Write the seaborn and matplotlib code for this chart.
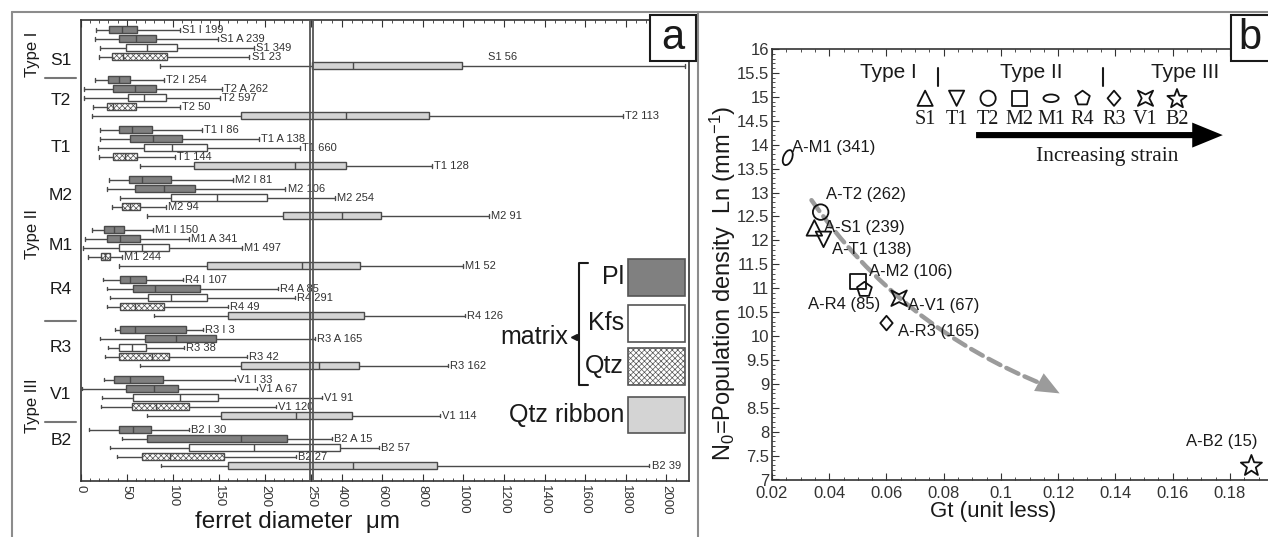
import numpy as np
import pandas as pd
import matplotlib
matplotlib.use("Agg")
import matplotlib.pyplot as plt
import seaborn as sns
from matplotlib.path import Path
from matplotlib.transforms import Affine2D, blended_transform_factory
from matplotlib.patches import Rectangle
from matplotlib.lines import Line2D
from matplotlib.ticker import FixedLocator, FuncFormatter, MultipleLocator

# ---------------- panel a data: (whisker low, Q1, median, Q3, whisker high) in micrometres
samples = ["S1", "T2", "T1", "M2", "M1", "R4", "R3", "V1", "B2"]
row_minerals = ["Pl", "Pl", "Kfs", "Qtz", "Qtz ribbon"]

S1_stats = [[17, 31, 44.5, 61, 108], [16, 41, 60, 82, 149], [21, 49, 72, 104, 188],
            [20, 34, 46, 94, 183], [86, 255, 457, 994, 2092]]
T2_stats = [[15.5, 30, 41.5, 54, 90], [3.6, 35, 59, 82, 153], [3.6, 51, 69, 92, 151],
            [13, 28, 35, 60, 108], [12.6, 174, 422, 828, 1785]]
T1_stats = [[21, 41.5, 56, 77, 131], [21, 53, 78, 110, 193], [19, 69, 99.5, 137, 238],
            [20, 35, 48, 61, 102], [64, 123, 232.5, 422, 845]]
M2_stats = [[31, 52, 67, 98, 165.6], [29, 59, 90, 124, 222], [42.6, 97.6, 147.5, 202, 368],
            [34, 45, 53, 64, 92], [71.6, 219, 401, 593, 1128]]
M1_stats = [[12, 25.6, 36.5, 47, 78], [4.7, 29, 42.6, 64, 117], [2, 42, 67, 96, 175],
            [8, 21.7, 26, 32, 45], [42, 137, 240, 491, 1000]]
R4_stats = [[24, 43, 53.5, 70.5, 111], [28, 57, 81, 129.5, 214], [32, 73, 97.6, 137, 232.5],
            [28, 42.6, 59, 90, 160], [79, 160, 249, 508, 1009]]
R3_stats = [[37, 43, 59, 114, 133], [21, 70, 103, 146.5, 270], [30, 41, 56, 71, 112],
            [26, 41, 77, 96, 180], [64, 174, 286, 483, 926]]
V1_stats = [[25.6, 36.5, 53.5, 89, 167], [1, 49, 80, 106, 191], [23, 57, 108, 149, 303],
            [21.7, 56, 82, 117, 212], [71.6, 152, 233, 453, 885]]
B2_stats = [[9, 41, 57, 76, 117], [44.5, 71.6, 174, 224, 352], [32, 117, 188, 393, 582],
            [39, 66, 97, 155.5, 233], [87, 159.5, 458, 872, 1917]]

S1_labels = ["S1 I 199", "S1 A 239", "S1 349", "S1 23", "S1 56"]
T2_labels = ["T2 I 254", "T2 A 262", "T2 597", "T2 50", "T2 113"]
T1_labels = ["T1 I 86", "T1 A 138", "T1 660", "T1 144", "T1 128"]
M2_labels = ["M2 I 81", "M2 106", "M2 254", "M2 94", "M2 91"]
M1_labels = ["M1 I 150", "M1 A 341", "M1 497", "M1 244", "M1 52"]
R4_labels = ["R4 I 107", "R4 A 85", "R4 291", "R4 49", "R4 126"]
R3_labels = ["R3 I 3", "R3 A 165", "R3 38", "R3 42", "R3 162"]
V1_labels = ["V1 I 33", "V1 A 67", "V1 91", "V1 120", "V1 114"]
B2_labels = ["B2 I 30", "B2 A 15", "B2 57", "B2 27", "B2 39"]

x_major = [0, 50, 100, 150, 200, 250, 400, 600, 800, 1000, 1200, 1400, 1600, 1800, 2000]

# ---------------- panel b data
gt_samples = ["M1", "T2", "S1", "T1", "M2", "R4", "V1", "R3", "B2"]
gt_values = [0.0255, 0.0370, 0.0348, 0.0380, 0.0500, 0.0523, 0.0644, 0.0600, 0.1875]
n0_values = [13.73, 12.59, 12.26, 12.02, 11.14, 10.97, 10.79, 10.27, 7.30]
point_labels = ["A-M1 (341)", "A-T2 (262)", "A-S1 (239)", "A-T1 (138)", "A-M2 (106)",
                "A-R4 (85)", "A-V1 (67)", "A-R3 (165)", "A-B2 (15)"]
strain_order = ["S1", "T1", "T2", "M2", "M1", "R4", "R3", "V1", "B2"]

stats = dict(zip(samples, [S1_stats, T2_stats, T1_stats, M2_stats, M1_stats,
                           R4_stats, R3_stats, V1_stats, B2_stats]))
labels = dict(zip(samples, [S1_labels, T2_labels, T1_labels, M2_labels, M1_labels,
                            R4_labels, R3_labels, V1_labels, B2_labels]))

# ---------------- style
sns.set_style("ticks")
plt.rcParams.update({
    "font.family": ["Liberation Sans", "DejaVu Sans"],
    "mathtext.fontset": "custom",
    "mathtext.rm": "Liberation Sans",
    "mathtext.it": "Liberation Sans:italic",
    "mathtext.bf": "Liberation Sans:bold",
    "hatch.color": "#9a9a9a",
    "hatch.linewidth": 0.5,
    "axes.edgecolor": "#333333",
    "axes.linewidth": 1.2,
    "xtick.color": "#333333",
    "ytick.color": "#333333",
    "text.color": "#1a1a1a",
})

W, H = 1268, 537
fig = plt.figure(figsize=(W / 100, H / 100), dpi=100)
fig.patch.set_facecolor("white")
def fx(x): return x / W
def fy(y): return 1 - y / H

# ================= panel a =================
axL = fig.add_axes([fx(80.7), fy(480.7), (689 - 80.7) / W, (480.7 - 20) / H])
K = 0.22
def fwd(x):
    x = np.asarray(x, dtype=float)
    return np.where(x <= 250, x, 250 + (x - 250) * K)
def inv(y):
    y = np.asarray(y, dtype=float)
    return np.where(y <= 250, y, 250 + (y - 250) / K)
axL.set_xscale("function", functions=(fwd, inv))

GROUP_STEP = 5.55
recs = []
for g, s in enumerate(samples):
    for r, st in enumerate(stats[s]):
        for v in st:
            recs.append({"value": v, "pos": g * GROUP_STEP + r, "mineral": row_minerals[r]})
df = pd.DataFrame(recs)

QTZ_FACE = "#fcfcfc"
pal = {"Pl": "#808080", "Kfs": "#ffffff", "Qtz": QTZ_FACE, "Qtz ribbon": "#d4d4d4"}
sns.boxplot(data=df, x="value", y="pos", hue="mineral", orient="h", native_scale=True,
            whis=(0, 100), width=0.78, palette=pal, saturation=1, linecolor="#4a4a4a",
            linewidth=1.0, dodge=False, showfliers=False, legend=False, ax=axL)

for p in axL.patches:
    fc = p.get_facecolor()
    if abs(fc[0] - 252 / 255) < 0.002 and abs(fc[1] - 252 / 255) < 0.002:
        p.set_hatch("xxxxxx")

axL.set_xlim(0, 2112)
axL.set_ylim(50.08, -1.11)
axL.set_xlabel("")
axL.set_ylabel("")
axL.set_yticks([])
axL.set_xticks(x_major)
axL.set_xticklabels([str(v) for v in x_major], rotation=270)
minor = [v for v in range(10, 250, 10) if v % 50] + [v for v in range(300, 2100, 50) if v not in x_major]
axL.xaxis.set_minor_locator(FixedLocator(minor))
axL.tick_params(axis="x", which="both", direction="in", top=True, labelsize=9.5, pad=3)
axL.tick_params(axis="x", which="major", length=5)
axL.tick_params(axis="x", which="minor", length=2.5)

# axis break
for xb in (248.3, 257.7):
    axL.axvline(xb, color="#555555", lw=1.3, zorder=6)

# box labels
for g, s in enumerate(samples):
    for r, st in enumerate(stats[s]):
        pos = g * GROUP_STEP + r
        if st[4] > 2000:
            axL.text(1122, pos - 0.95, labels[s][r], fontsize=8, ha="left", va="center", color="#333")
        else:
            axL.annotate(labels[s][r], (st[4], pos), xytext=(1.5, 0), textcoords="offset points",
                         fontsize=8, ha="left", va="center", color="#333")

# group labels
group_shift = [1.4, 0.3, 0.0, -0.3, -0.3, -0.9, 0.0, -0.3, -0.8]
tr = blended_transform_factory(fig.transFigure, axL.transData)
for g, s in enumerate(samples):
    axL.text(fx(61), g * GROUP_STEP + 2 + group_shift[g], s, transform=tr, fontsize=12.5,
             ha="center", va="center", clip_on=False)
for yy in (78, 321, 422):
    fig.add_artist(Line2D([fx(45), fx(76)], [fy(yy), fy(yy)], color="#777777", lw=1.5))
for txt, yy in (("Type I", 54), ("Type II", 234), ("Type III", 406)):
    fig.text(fx(33), fy(yy), txt, rotation=90, fontsize=12, ha="center", va="center")

fig.text(fx(195), fy(522), "ferret diameter  μm", fontsize=17.5, ha="left", va="center")

# legend of panel a
leg = [("Pl", 259, 296, "#808080", None), ("Kfs", 305, 342, "#ffffff", None),
       ("Qtz", 348, 385, "#ffffff", "xxxxxx"), ("Qtz ribbon", 397, 433, "#d4d4d4", None)]
for name, y0, y1, col, hatch in leg:
    fig.add_artist(Rectangle((fx(628), fy(y1)), 57 / W, (y1 - y0) / H, transform=fig.transFigure,
                             facecolor=col, edgecolor="#555555", lw=1.2, hatch=hatch))
    fig.text(fx(624), fy((y0 + y1) / 2), name, fontsize=18, ha="right", va="center")
fig.text(fx(568), fy(337), "matrix", fontsize=18, ha="right", va="center")
fig.add_artist(Line2D([fx(588), fx(579), fx(579), fx(588)], [fy(263), fy(263), fy(385), fy(385)],
                      color="#1a1a1a", lw=1.5))
fig.add_artist(Line2D([fx(574)], [fy(337)], marker="<", ms=5, color="#1a1a1a", lw=0))

# ================= panel b =================
axR = fig.add_axes([fx(772), fy(479.5), (W - 772) / W, (479.5 - 49) / H])

ell_data = Path.unit_circle().transformed(Affine2D().scale(0.55, 1).rotate_deg(-22))
ell_leg = Path.unit_circle().transformed(Affine2D().scale(1, 0.5))
star4 = Path([(1, 1), (0, 0.5), (-1, 1), (-0.5, 0), (-1, -1), (0, -0.5), (1, -1), (0.5, 0), (1, 1)],
             [Path.MOVETO] + [Path.LINETO] * 7 + [Path.CLOSEPOLY])
diam = Path([(0, 1), (-0.85, 0), (0, -1), (0.85, 0), (0, 1)],
            [Path.MOVETO] + [Path.LINETO] * 3 + [Path.CLOSEPOLY])
ang = np.pi / 2 + np.arange(10) * np.pi / 5
rad = np.where(np.arange(10) % 2 == 0, 1.0, 0.42)
star5 = Path(np.column_stack([rad * np.cos(ang), rad * np.sin(ang) - 0.08]).tolist() + [[0, 0.92]],
             [Path.MOVETO] + [Path.LINETO] * 9 + [Path.CLOSEPOLY])
marker_map = {"S1": "^", "T1": "v", "T2": "o", "M2": "s", "M1": ell_data, "R4": "p",
              "R3": diam, "V1": star4, "B2": star5}
marker_size = {"S1": 125, "T1": 125, "T2": 125, "M2": 125, "M1": 125, "R4": 125,
               "R3": 110, "V1": 125, "B2": 230}

dfp = pd.DataFrame({"Gt": gt_values, "N0": n0_values, "sample": gt_samples})
sns.scatterplot(data=dfp, x="Gt", y="N0", style="sample", markers=marker_map,
                size="sample", sizes=marker_size,
                color="#111111", facecolor="none", edgecolor="#111111", linewidth=1.3,
                legend=False, ax=axR, zorder=5, clip_on=False)

axR.set_xlim(0.02, 0.1933)
axR.set_ylim(7, 16)
axR.set_xlabel("")
axR.set_ylabel("")
axR.xaxis.set_major_locator(MultipleLocator(0.02))
axR.xaxis.set_minor_locator(MultipleLocator(0.005))
axR.yaxis.set_major_locator(MultipleLocator(0.5))
axR.yaxis.set_minor_locator(MultipleLocator(0.1))
fmt = FuncFormatter(lambda v, p: f"{v:g}")
axR.xaxis.set_major_formatter(fmt)
axR.yaxis.set_major_formatter(fmt)
axR.tick_params(which="both", direction="in", top=True, right=False, labelsize=12, pad=2)
axR.tick_params(axis="x", which="major", pad=5)
axR.tick_params(which="major", length=5)
axR.tick_params(which="minor", length=2.5)
axR.spines["right"].set_visible(False)

label_off = [(4, 10, "left"), (5, 18, "left"), (10, 0, "left"), (8, -10, "left"), (11, 10, "left"),
             (16, -15, "right"), (9, -7, "left"), (12, -8, "left"), (6, 24, "right")]
for gx, ny, lab, (dx, dy, ha) in zip(gt_values, n0_values, point_labels, label_off):
    axR.annotate(lab, (gx, ny), xytext=(dx * 0.72, dy * 0.72), textcoords="offset points",
                 fontsize=12, ha=ha, va="center", zorder=6)

# dashed trend arrow
axR.annotate("", xy=(0.1155, 8.97), xytext=(0.0338, 12.84),
             arrowprops=dict(arrowstyle="-", color="#9b9b9b", lw=3.2, linestyle=(0, (3, 1.5)),
                             connectionstyle="arc3,rad=0.15", shrinkA=0, shrinkB=0), zorder=3)
axR.annotate("", xy=(0.1205, 8.80), xytext=(0.1125, 9.06),
             arrowprops=dict(arrowstyle="simple,head_length=1.0,head_width=0.85,tail_width=0.05",
                             color="#9b9b9b", lw=0, mutation_scale=17, shrinkA=0, shrinkB=0), zorder=3)

# strain legend row
lx0, ldx = 0.0735, 0.0110
for i, s in enumerate(strain_order):
    xm = lx0 + i * ldx
    mk = ell_leg if s == "M1" else marker_map[s]
    sz = 190 if s == "B2" else 120
    axR.scatter([xm], [14.97], marker=mk, s=sz, facecolor="none", edgecolor="#111111", linewidths=1.3,
                zorder=5)
    axR.text(xm, 14.52, s, fontsize=14.5, ha="center", va="center", family="Liberation Serif")
for txt, xt in (("Type I", 0.0605), ("Type II", 0.1105), ("Type III", 0.1643)):
    axR.text(xt, 15.5, txt, fontsize=15, ha="center", va="center")
for xb in (0.078, 0.1357):
    axR.plot([xb, xb], [15.22, 15.6], color="#1a1a1a", lw=1.5)
axR.annotate("", xy=(0.1775, 14.2), xytext=(0.0913, 14.2),
             arrowprops=dict(arrowstyle="simple,head_length=1.1,head_width=0.9,tail_width=0.22",
                             color="black", lw=0, mutation_scale=20, shrinkA=0, shrinkB=0))
axR.text(0.137, 13.75, "Increasing strain", fontsize=15.5, ha="center", va="center",
         family="Liberation Serif")

fig.text(fx(993), fy(512), "Gt (unit less)", fontsize=16, ha="center", va="center")
fig.text(fx(723), fy(283), r"N$\mathregular{_0}$=Population density  Ln (mm$\mathregular{^{-1}}$)",
         fontsize=17, rotation=90, ha="center", va="center")

# ================= frames and panel letters =================
fcol = "#8c8c8c"
fig.add_artist(Line2D([fx(12), fx(12)], [fy(12), fy(537)], color=fcol, lw=1.5))
fig.add_artist(Line2D([fx(12), fx(1268)], [fy(12), fy(12)], color=fcol, lw=1.5))
fig.add_artist(Line2D([fx(698), fx(698)], [fy(12), fy(537)], color=fcol, lw=1.5))

for letter, x0, x1 in (("a", 650, 696), ("b", 1231, 1275)):
    fig.add_artist(Rectangle((fx(x0), fy(61)), (x1 - x0) / W, 46 / H, transform=fig.transFigure,
                             facecolor="white", edgecolor="#1a1a1a", lw=1.5, zorder=10))
    fig.text(fx((x0 + min(x1, 1268)) / 2), fy(38), letter, fontsize=30, ha="center",
             va="center", zorder=11)

fig.savefig("out.png", dpi=100, facecolor="white")
